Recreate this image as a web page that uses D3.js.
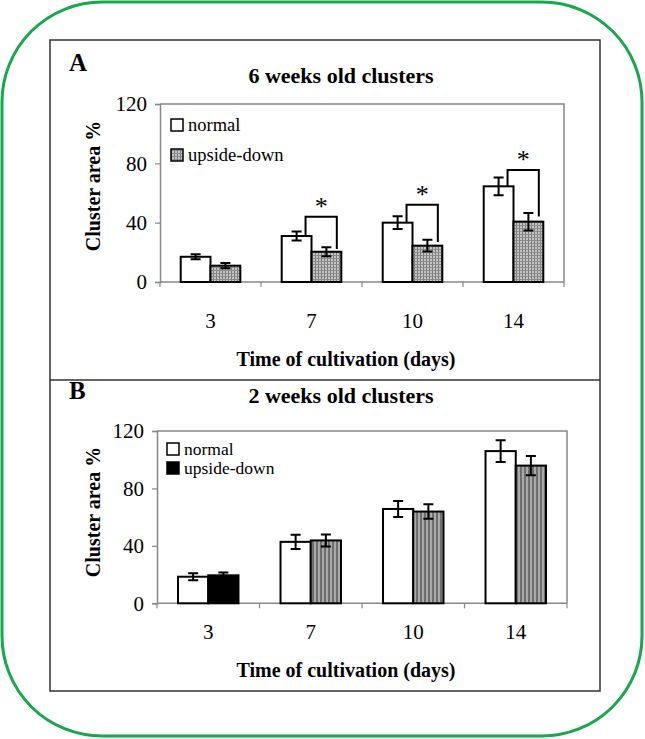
<!DOCTYPE html>
<html><head><meta charset="utf-8">
<script src="https://cdn.jsdelivr.net/npm/d3@7"></script>
<style>body{margin:0;background:#fff}svg{display:block}text{font-family:"Liberation Serif","Times New Roman",serif;fill:#000}</style>
</head><body>
<script>
const categories = ["3","7","10","14"];
const yTicks = [0,40,80,120];
const seriesNames = ["normal","upside-down"];
const aNormal = [17, 31, 40, 64.5];
const aNormalErr = [1.7, 3, 4.3, 6];
const aUpside = [11, 20.4, 24.5, 40.7];
const aUpsideErr = [1.8, 3, 4, 5.9];
const aBracket = [null, 44, 52, 75.5];
const bNormal = [18.5, 42.8, 65.7, 106];
const bNormalErr = [2.4, 4.9, 5.6, 7.6];
const bUpside = [19.5, 43.8, 63.9, 95.9];
const bUpsideErr = [2, 4.2, 5, 6.7];

const W = 645, H = 739;
const svg = d3.select("body").append("svg").attr("width", W).attr("height", H);
const defs = svg.append("defs");
const pA = defs.append("pattern").attr("id","gridA").attr("patternUnits","userSpaceOnUse").attr("width",3).attr("height",3);
pA.append("rect").attr("width",3).attr("height",3).attr("fill","#c4c4c4");
pA.append("rect").attr("width",1).attr("height",3).attr("fill","#7c7c7c");
pA.append("rect").attr("width",3).attr("height",1).attr("fill","#8c8c8c");
const pB = defs.append("pattern").attr("id","stripeB").attr("patternUnits","userSpaceOnUse").attr("width",4).attr("height",4);
pB.append("rect").attr("width",4).attr("height",4).attr("fill","#a9a9a9");
pB.append("rect").attr("width",2).attr("height",4).attr("fill","#6e6e6e");

svg.append("rect").attr("x",2).attr("y",2).attr("width",640).attr("height",734).attr("rx",100).attr("ry",100)
  .attr("fill","none").attr("stroke","#17a84e").attr("stroke-width",3);
svg.append("rect").attr("x",50).attr("y",40).attr("width",550).attr("height",651)
  .attr("fill","none").attr("stroke","#333").attr("stroke-width",1.5);
svg.append("line").attr("x1",50).attr("x2",600).attr("y1",380).attr("y2",380).attr("stroke","#333").attr("stroke-width",1.5);

function panel(cfg){
  const g = svg.append("g");
  const x = d3.scaleBand().domain(categories).range([cfg.x0, cfg.x1]).padding(0);
  const y = d3.scaleLinear().domain([0,120]).range([cfg.y0, cfg.yTop]);
  const bw = x.bandwidth()*0.295;
  g.append("path").attr("d",`M${cfg.x0},${y(120)}H${cfg.x1}V${y(0)}`).attr("fill","none").attr("stroke","#888").attr("stroke-width",1.5);
  const ya = g.append("g").attr("transform",`translate(${cfg.x0},0)`).call(d3.axisLeft(y).tickValues(yTicks).tickSize(5).tickPadding(8));
  ya.attr("font-family",null);
  ya.select(".domain").attr("stroke","#888").attr("stroke-width",1.5);
  ya.selectAll(".tick line").attr("stroke","#888").attr("stroke-width",1.2);
  ya.selectAll("text").style("font-family",'"Liberation Serif",serif').style("font-size","21px").attr("fill","#000");
  const xa = g.append("g").attr("transform",`translate(0,${y(0)})`);
  xa.append("line").attr("x1",cfg.x0).attr("x2",cfg.x1).attr("stroke","#888").attr("stroke-width",1.5);
  const bounds = categories.map(c=>x(c)).concat([cfg.x1]);
  xa.selectAll("line.tk").data(bounds).enter().append("line").attr("class","tk")
    .attr("x1",d=>d).attr("x2",d=>d).attr("y1",0).attr("y2",5).attr("stroke","#888").attr("stroke-width",1.2);
  xa.selectAll("text").data(categories).enter().append("text")
    .attr("x",d=>x(d)+x.bandwidth()/2).attr("y",cfg.tickY-y(0)).attr("text-anchor","middle").style("font-size","21px").text(d=>d);
  const cx = c => x(c)+x.bandwidth()/2;
  categories.forEach((c,i)=>{
    const nx = cx(c)-bw, ux = cx(c);
    g.append("rect").attr("x",nx).attr("y",y(cfg.normal[i])).attr("width",bw).attr("height",y(0)-y(cfg.normal[i]))
      .attr("fill","#fff").attr("stroke","#000").attr("stroke-width",2);
    g.append("rect").attr("x",ux).attr("y",y(cfg.upside[i])).attr("width",bw).attr("height",y(0)-y(cfg.upside[i]))
      .attr("fill",(cfg.solidFirst && i===0)?"#000":cfg.fill).attr("stroke","#000").attr("stroke-width",2);
    [[nx+bw/2,cfg.normal[i],cfg.normalErr[i]],[ux+bw/2,cfg.upside[i],cfg.upsideErr[i]]].forEach(([ex,v,e])=>{
      const p = d3.path();
      p.moveTo(ex,y(v+e)); p.lineTo(ex,y(v-e));
      p.moveTo(ex-5,y(v+e)); p.lineTo(ex+5,y(v+e));
      p.moveTo(ex-5,y(v-e)); p.lineTo(ex+5,y(v-e));
      g.append("path").attr("d",p.toString()).attr("stroke","#000").attr("stroke-width",2).attr("fill","none");
    });
    if(cfg.bracket && cfg.bracket[i]!=null){
      const lx = nx+bw*0.8, rx = ux+bw*0.85, ty = y(cfg.bracket[i]);
      g.append("path").attr("d",`M${lx},${y(cfg.normal[i])}V${ty}H${rx}V${y(cfg.upside[i]+cfg.upsideErr[i]*0.6)}`)
        .attr("fill","none").attr("stroke","#000").attr("stroke-width",2);
      g.append("text").attr("x",(lx+rx)/2).attr("y",ty-2).attr("text-anchor","middle").style("font-size","26px").text("*");
    }
  });
  seriesNames.forEach((s,i)=>{
    const ly = cfg.legY + i*cfg.legGap;
    g.append("rect").attr("x",cfg.legX).attr("y",ly-12).attr("width",12).attr("height",12)
      .attr("fill", i===0?"#fff":cfg.legFill).attr("stroke","#000").attr("stroke-width",1.5);
    g.append("text").attr("x",cfg.legX+17).attr("y",ly).style("font-size",cfg.legFont+"px").text(s);
  });
  g.append("text").attr("x",cfg.letterX).attr("y",cfg.letterY).style("font-size","25px").style("font-weight","bold").text(cfg.letter);
  g.append("text").attr("x",341).attr("y",cfg.titleY).attr("text-anchor","middle").style("font-size","22px").style("font-weight","bold").text(cfg.title);
  g.append("text").attr("x",346).attr("y",cfg.xTitleY).attr("text-anchor","middle").style("font-size","20px").style("font-weight","bold").text("Time of cultivation (days)");
  g.append("text").attr("transform",`translate(100,${cfg.yTitleC}) rotate(-90)`).attr("text-anchor","middle").style("font-size","20px").style("font-weight","bold").text("Cluster area %");
}

panel({x0:160,x1:564,y0:282,yTop:104,normal:aNormal,normalErr:aNormalErr,upside:aUpside,upsideErr:aUpsideErr,
  bracket:aBracket,fill:"url(#gridA)",legFill:"url(#gridA)",solidFirst:false,tickY:328,legFont:18.5,
  legX:171,legY:131,legGap:30,letter:"A",letterX:69,letterY:71,title:"6 weeks old clusters",titleY:83,xTitleY:366,yTitleC:186});
panel({x0:157,x1:567,y0:603.3,yTop:431,normal:bNormal,normalErr:bNormalErr,upside:bUpside,upsideErr:bUpsideErr,
  bracket:null,fill:"url(#stripeB)",legFill:"#000",solidFirst:true,tickY:639,legFont:17.5,
  legX:167,legY:455,legGap:19,letter:"B",letterX:69,letterY:399,title:"2 weeks old clusters",titleY:403,xTitleY:677,yTitleC:512});
</script>
</body></html>
